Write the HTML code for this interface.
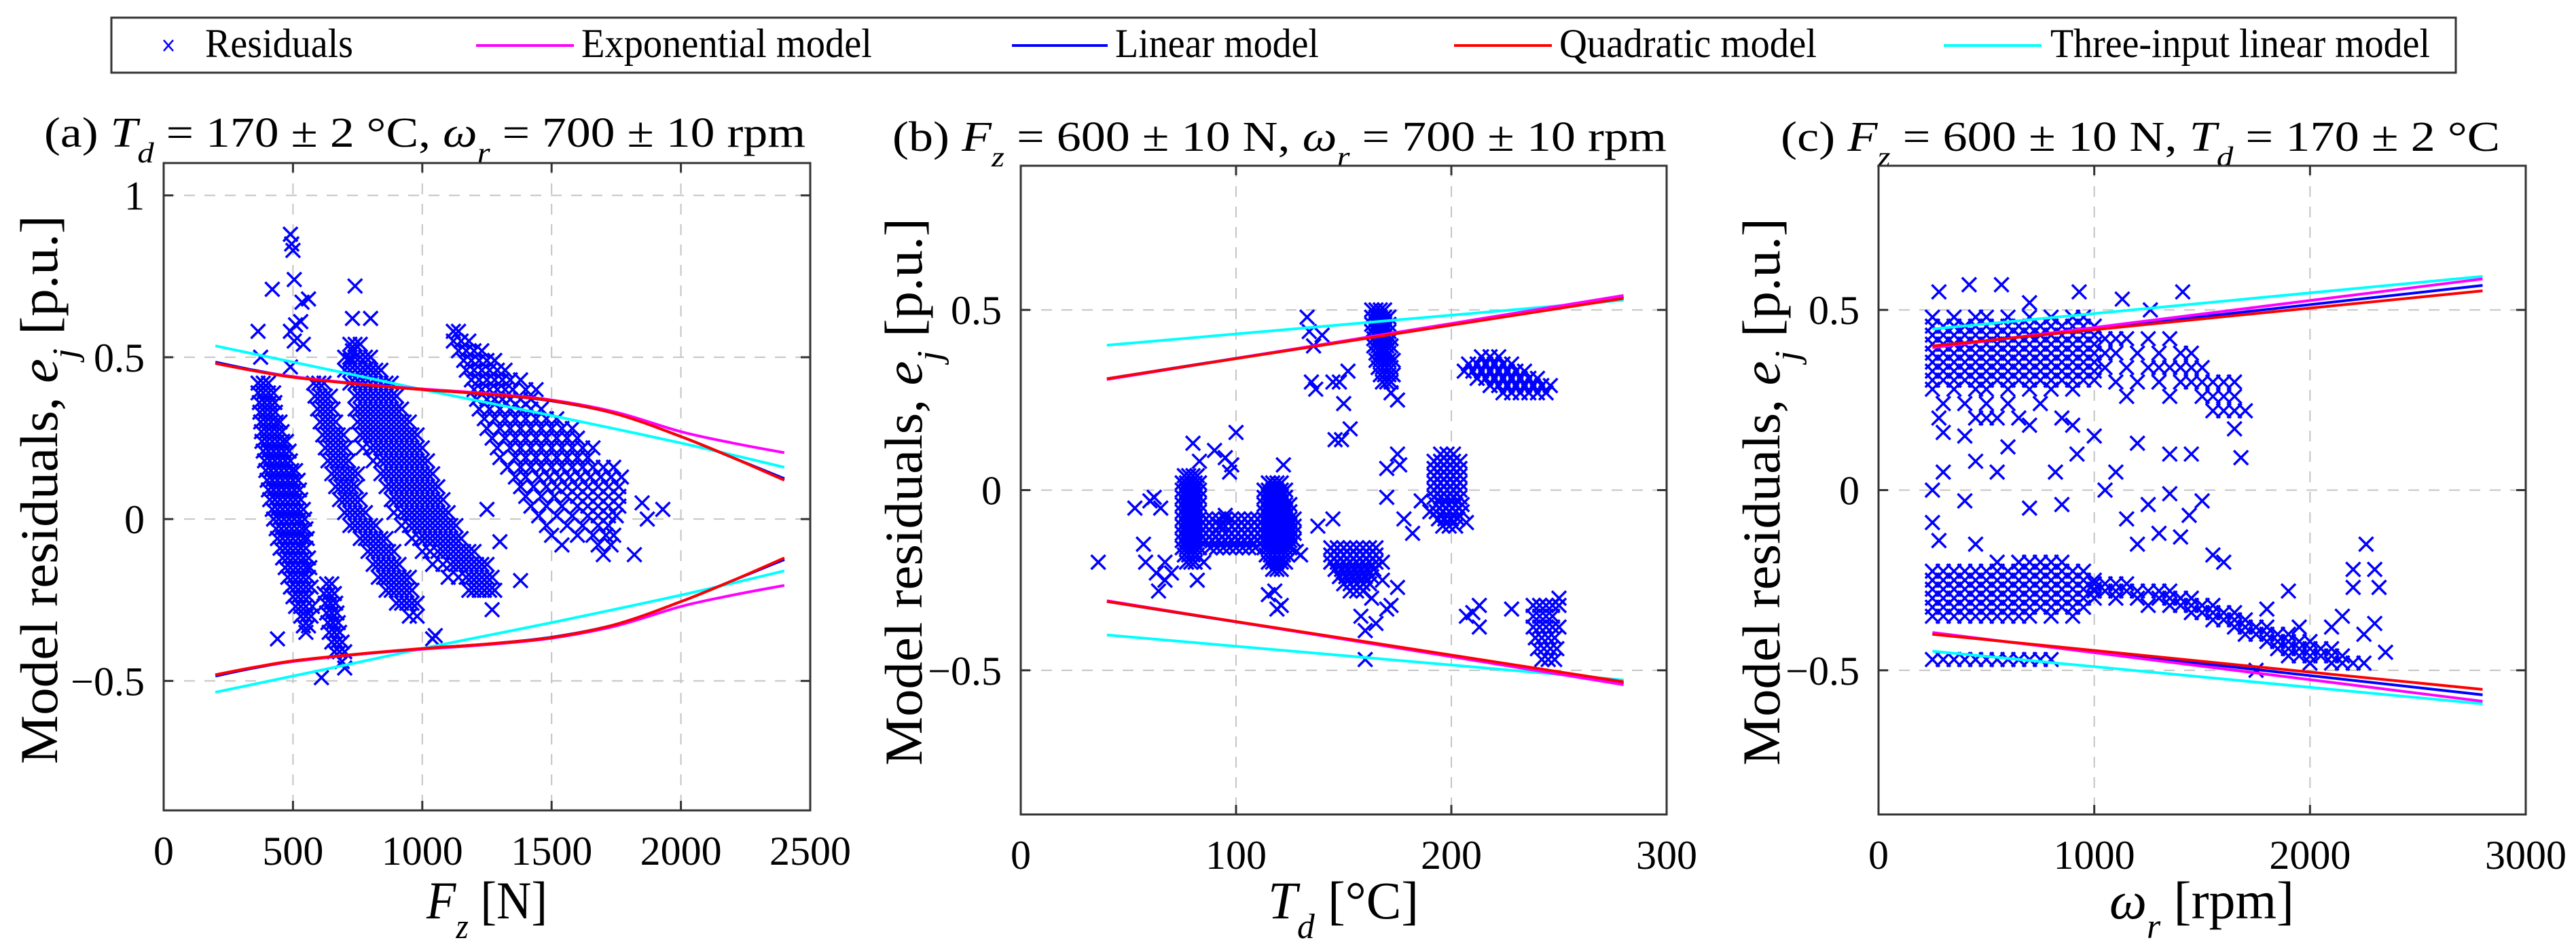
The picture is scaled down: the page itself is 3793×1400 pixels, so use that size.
<!DOCTYPE html>
<html><head><meta charset="utf-8"><style>
html,body{margin:0;padding:0;background:#fff;}
svg{display:block;font-family:"Liberation Serif","DejaVu Serif",serif;}
</style></head><body>
<svg id="fig" width="3793" height="1400" viewBox="0 0 3793 1400" xmlns="http://www.w3.org/2000/svg">
<rect x="0" y="0" width="3793" height="1400" fill="#fff"/>
<g>
 <rect x="164" y="26" width="3452" height="81" fill="#fff" stroke="#333" stroke-width="3"/>
 <g>
  <path d="M241,59 L255,75 M255,59 L241,75" stroke="#0000ff" stroke-width="2.5"/>
  <text x="302" y="84" font-size="60" textLength="218" lengthAdjust="spacingAndGlyphs">Residuals</text>
 </g>
 <g>
  <line x1="701" y1="67" x2="845" y2="67" stroke="#ff00ff" stroke-width="4"/>
  <text x="856" y="84" font-size="60" textLength="428" lengthAdjust="spacingAndGlyphs">Exponential model</text>
 </g>
 <g>
  <line x1="1490" y1="67" x2="1631" y2="67" stroke="#0000ff" stroke-width="4"/>
  <text x="1642" y="84" font-size="60" textLength="300" lengthAdjust="spacingAndGlyphs">Linear model</text>
 </g>
 <g>
  <line x1="2141" y1="67" x2="2285" y2="67" stroke="#ff0000" stroke-width="4"/>
  <text x="2296" y="84" font-size="60" textLength="379" lengthAdjust="spacingAndGlyphs">Quadratic model</text>
 </g>
 <g>
  <line x1="2862" y1="67" x2="3006" y2="67" stroke="#00ffff" stroke-width="4"/>
  <text x="3019" y="84" font-size="60" textLength="559" lengthAdjust="spacingAndGlyphs">Three-input linear model</text>
 </g>
</g>

<text x="65" y="216" font-size="62" textLength="1121" lengthAdjust="spacingAndGlyphs">(a)  <tspan font-style="italic">T</tspan><tspan font-style="italic" font-size="42" baseline-shift="sub">d</tspan> = 170 ± 2 °C,  <tspan font-style="italic">ω</tspan><tspan font-style="italic" font-size="42" baseline-shift="sub">r</tspan> = 700 ± 10 rpm</text>
<text x="1314" y="222" font-size="62" textLength="1140" lengthAdjust="spacingAndGlyphs">(b)  <tspan font-style="italic">F</tspan><tspan font-style="italic" font-size="42" baseline-shift="sub">z</tspan> = 600 ± 10 N,  <tspan font-style="italic">ω</tspan><tspan font-style="italic" font-size="42" baseline-shift="sub">r</tspan> = 700 ± 10 rpm</text>
<text x="2622" y="222" font-size="62" textLength="1059" lengthAdjust="spacingAndGlyphs">(c)  <tspan font-style="italic">F</tspan><tspan font-style="italic" font-size="42" baseline-shift="sub">z</tspan> = 600 ± 10 N,  <tspan font-style="italic">T</tspan><tspan font-style="italic" font-size="42" baseline-shift="sub">d</tspan> = 170 ± 2 °C</text>

<text transform="translate(84,721) rotate(-90)" text-anchor="middle" font-size="78" textLength="808" lengthAdjust="spacingAndGlyphs">Model residuals, <tspan font-style="italic">e</tspan><tspan font-style="italic" font-size="52" baseline-shift="sub">j</tspan> [p.u.]</text>
<text transform="translate(1357,724) rotate(-90)" text-anchor="middle" font-size="78" textLength="806" lengthAdjust="spacingAndGlyphs">Model residuals, <tspan font-style="italic">e</tspan><tspan font-style="italic" font-size="52" baseline-shift="sub">j</tspan> [p.u.]</text>
<text transform="translate(2620,724) rotate(-90)" text-anchor="middle" font-size="78" textLength="806" lengthAdjust="spacingAndGlyphs">Model residuals, <tspan font-style="italic">e</tspan><tspan font-style="italic" font-size="52" baseline-shift="sub">j</tspan> [p.u.]</text>

<text x="717" y="1352" text-anchor="middle" font-size="78" textLength="178" lengthAdjust="spacingAndGlyphs"><tspan font-style="italic">F</tspan><tspan font-style="italic" font-size="52" baseline-shift="sub">z</tspan> [N]</text>
<text x="1978" y="1352" text-anchor="middle" font-size="78" textLength="222" lengthAdjust="spacingAndGlyphs"><tspan font-style="italic">T</tspan><tspan font-style="italic" font-size="52" baseline-shift="sub">d</tspan> [°C]</text>
<text x="3242" y="1352" text-anchor="middle" font-size="78" textLength="272" lengthAdjust="spacingAndGlyphs"><tspan font-style="italic">ω</tspan><tspan font-style="italic" font-size="52" baseline-shift="sub">r</tspan> [rpm]</text>
</svg>

<script>
// ---------- Panel (a) data ----------
const xTicksA = [0, 500, 1000, 1500, 2000, 2500];
const yTicksA = [-0.5, 0, 0.5, 1];
const yTickLabelsA = ["\u22120.5", "0", "0.5", "1"];
const modelXA = [200, 350, 500, 750, 1000, 1250, 1500, 1750, 2000, 2200, 2400];
const expUpperA = [0.481, 0.458, 0.44, 0.418, 0.402, 0.388, 0.368, 0.33, 0.27, 0.235, 0.205];
const linUpperA = [0.485, 0.46, 0.44, 0.418, 0.40, 0.386, 0.365, 0.325, 0.255, 0.19, 0.125];
const quadUpperA = [0.481, 0.458, 0.438, 0.417, 0.40, 0.386, 0.366, 0.325, 0.255, 0.19, 0.12];
const threeUpperA = [0.535, 0.51, 0.485, 0.443, 0.40, 0.36, 0.32, 0.278, 0.235, 0.198, 0.16];
const rowsA = [
 [0.42,[365,385,405]],[0.39,[365,385,405,425]],[0.36,[370,390,410,430]],[0.33,[372,392,412,432]],
 [0.30,[375,395,415,435,450]],[0.27,[378,398,418,438,458]],[0.24,[380,400,420,440,460,475]],
 [0.21,[385,405,425,445,465,485]],[0.18,[390,410,430,450,470,490]],[0.15,[395,415,435,455,475,495,510]],
 [0.12,[400,420,440,460,480,500,520]],[0.09,[405,425,445,465,485,505,525]],[0.06,[410,430,450,470,490,510,530]],
 [0.03,[420,440,460,480,500,520,540]],[0.0,[425,445,465,485,505,525,545]],[-0.03,[435,455,475,495,515,535,550]],
 [-0.06,[440,460,480,500,520,540,555]],[-0.09,[450,470,490,510,530,550]],[-0.12,[460,480,500,520,540,560]],
 [-0.15,[470,490,510,530,550,565]],[-0.18,[480,500,520,540,560]],[-0.21,[490,510,530,550,570]],
 [-0.24,[500,520,540,560]],[-0.27,[510,530,550,575]],[-0.30,[530,550,570]],[-0.33,[540,560]],
 [-0.20,[630,650]],[-0.23,[620,640,660]],[-0.26,[625,645,665]],[-0.29,[630,650,670]],[-0.32,[635,655,675]],
 [-0.35,[640,660,680]],[-0.38,[650,670,690]],[-0.41,[660,680,700]],[-0.44,[690]],
 [0.42,[580,600,620]],[0.38,[585,605,625,645]],[0.34,[595,615,635,655]],[0.30,[605,625,645,665]],
 [0.26,[615,635,655,675,695]],[0.22,[625,645,665,685,705]],[0.18,[635,655,675,695,715]],
 [0.14,[650,670,690,710,730,750]],[0.10,[665,685,705,725,745]],[0.06,[680,700,720,740,760]],
 [0.02,[700,720,740,760,780]],[-0.02,[720,740,760,780,800,820]],[-0.06,[760,780,800,820,840,860]],
 [-0.10,[790,810,830,850,870,890]],[-0.14,[810,830,850,870,890,910]],[-0.18,[830,850,870,890,910,930,950]],
 [-0.22,[860,880,900,920,940,960]],[-0.26,[900,920,940,960,980]],[-0.30,[950,980]],
 [0.54,[720,740,760]],[0.50,[700,720,740,760,780,800]],[0.46,[700,720,740,760,780,800,820,840]],
 [0.42,[720,740,760,780,800,820,840,860,880]],[0.38,[740,760,780,800,820,840,860,880,900]],
 [0.34,[740,760,780,800,820,840,860,880,900,920]],[0.30,[750,770,790,810,830,850,870,890,910,930,950]],
 [0.26,[760,780,800,820,840,860,880,900,920,940,960,980]],[0.22,[770,800,820,840,860,880,900,920,940,960,980,1000]],
 [0.18,[810,840,860,880,900,920,940,960,980,1000,1020]],[0.14,[840,860,880,900,920,940,960,980,1000,1020,1040]],
 [0.10,[860,880,900,920,940,960,980,1000,1020,1040,1060]],[0.06,[880,900,920,940,960,980,1000,1020,1040,1060,1080]],
 [0.02,[890,920,940,960,980,1000,1020,1040,1060,1080,1100]],[-0.02,[920,950,970,990,1010,1030,1050,1070,1090,1110,1130]],
 [-0.06,[960,990,1010,1030,1050,1070,1090,1110,1130,1150]],[-0.10,[1000,1030,1060,1080,1100,1120,1140,1160,1180,1200]],
 [-0.14,[1040,1080,1110,1130,1150,1170,1190,1210,1230,1250]],[-0.18,[1100,1140,1170,1190,1210,1230,1250,1270]],
 [-0.22,[1180,1200,1220,1240,1260,1280]],
 [0.58,[1120,1140]],[0.55,[1120,1150,1180]],[0.52,[1140,1170,1200,1230]],[0.49,[1160,1190,1220,1250,1280]],
 [0.46,[1170,1200,1230,1260,1290,1320]],[0.43,[1190,1220,1250,1280,1310,1340,1380]],
 [0.40,[1200,1230,1260,1290,1320,1350,1400,1440]],[0.37,[1210,1250,1280,1310,1340,1380,1420]],
 [0.34,[1220,1260,1300,1340,1380,1420,1460]],[0.31,[1240,1280,1320,1360,1400,1440,1480,1520]],
 [0.28,[1250,1300,1340,1380,1420,1460,1500,1540,1580]],[0.25,[1270,1320,1360,1400,1440,1480,1520,1560,1600]],
 [0.22,[1290,1340,1380,1420,1460,1500,1540,1580,1620,1660]],[0.19,[1300,1360,1400,1440,1480,1520,1560,1600,1640]],
 [0.16,[1330,1380,1420,1460,1500,1540,1580,1620,1660,1700,1740]],[0.13,[1360,1400,1450,1490,1530,1570,1610,1650,1690,1730,1770]],
 [0.10,[1380,1430,1480,1520,1560,1600,1640,1680,1720,1760]],[0.07,[1400,1460,1510,1560,1600,1640,1680,1720,1760]],
 [0.04,[1420,1480,1540,1600,1640,1680,1720,1760]],[0.01,[1450,1520,1580,1640,1680,1720,1750]],
 [-0.02,[1480,1560,1620,1680,1720]],[-0.05,[1500,1600,1660,1710,1740]],[-0.08,[1540,1680,1730]],[-0.11,[1700,1820]]
];
const outliersA = [[490,0.88],[495,0.85],[500,0.83],[505,0.74],[420,0.71],[560,0.68],[535,0.67],[530,0.61],[510,0.6],
 [365,0.58],[490,0.58],[375,0.50],[490,0.47],[540,0.54],[505,0.55],[610,-0.49],[440,-0.37],[550,-0.35],[720,0.49],
 [730,0.52],[790,0.47],[800,0.62],[740,0.72],[730,0.62],[1870,0.0],[1930,0.03],[1850,0.05],[1380,-0.19],[1300,-0.07],
 [1250,0.03],[700,-0.46],[1270,-0.28],[1050,-0.36],[1040,-0.37]];

// ---------- Panel (b) data ----------
const xTicksB = [0, 100, 200, 300];
const yTicksB = [-0.5, 0, 0.5];
const yTickLabelsB = ["\u22120.5", "0", "0.5"];
const modelXB = [40, 280];
const expUpperB = [0.307, 0.540];
const linUpperB = [0.309, 0.536];
const quadUpperB = [0.309, 0.532];
const threeUpperB = [0.402, 0.527];
const rowsB = [
 [0.04,[76,78,80,82]],[0.02,[75,77,79,81,83]],[0.0,[75,77,79,81,83]],[-0.02,[75,77,79,81,83]],[-0.04,[75,77,79,81,83]],
 [-0.06,[75,77,79,81,83]],[-0.08,[75,77,79,81,83]],[-0.10,[75,77,79,81,83]],[-0.12,[75,77,79,81,83]],
 [-0.14,[75,77,79,81,83]],[-0.16,[75,77,79,81,83]],[-0.18,[76,78,80,82]],[-0.20,[77,79,81]],
 [-0.08,[86,89,92,95,98,101,104,107,110]],[-0.10,[86,89,92,95,98,101,104,107,110]],[-0.12,[86,89,92,95,98,101,104,107,110]],
 [-0.14,[86,89,92,95,98,101,104,107,110]],[-0.16,[88,91,94,97,100,103,106,109]],
 [0.02,[115,117,119,121]],[0.0,[113,115,117,119,121,123]],[-0.02,[113,115,117,119,121,123]],[-0.04,[113,115,117,119,121,123,125]],
 [-0.06,[113,115,117,119,121,123,125]],[-0.08,[113,115,117,119,121,123,125,127]],[-0.10,[113,115,117,119,121,123,125,127]],
 [-0.12,[113,115,117,119,121,123,125,127]],[-0.14,[113,115,117,119,121,123,125,127]],[-0.16,[113,115,117,119,121,123,125]],
 [-0.18,[114,116,118,120,122,124]],[-0.20,[115,117,119,121,123]],[-0.22,[117,119,121]],
 [-0.16,[144,147,150,153,156,159,162,165]],[-0.18,[144,147,150,153,156,159,162,165]],[-0.20,[144,147,150,153,156,159,162,165]],
 [-0.22,[146,149,152,155,158,161,164]],[-0.24,[148,151,154,157,160,163]],[-0.26,[150,153,156,159,162]],[-0.28,[153,156,159]],
 [0.50,[163,165,167,169]],[0.48,[163,165,167,169,171]],[0.46,[163,165,167,169,171]],[0.44,[163,165,167,169,171]],
 [0.42,[164,166,168,170,172]],[0.40,[164,166,168,170,172]],[0.38,[165,167,169,171]],[0.36,[165,167,169,171,173]],
 [0.34,[166,168,170,172]],[0.32,[167,169,171,173]],[0.30,[168,170,172]],
 [0.10,[195,198,201]],[0.08,[192,195,198,201,204]],[0.06,[192,195,198,201,204]],[0.04,[192,195,198,201,204]],
 [0.02,[192,195,198,201,204]],[0.0,[192,195,198,201,204]],[-0.02,[192,195,198,201,204]],[-0.04,[193,196,199,202,205]],
 [-0.06,[193,196,199,202,205]],[-0.08,[194,197,200,203]],[-0.10,[196,199,202]],
 [0.37,[214,218,222]],[0.35,[208,212,216,220,224,228]],[0.33,[206,210,214,218,222,226,230,234]],
 [0.31,[212,216,220,224,228,232,236,240]],[0.29,[218,222,226,230,234,238,242,246]],[0.27,[224,228,232,236,240,244]],
 [-0.32,[238,241,244,247,250]],[-0.35,[238,241,244,247]],[-0.38,[238,241,244,247,250]],[-0.41,[239,242,245,248]],
 [-0.44,[240,243,246,249]],[-0.47,[242,245,248]]
];
const outliersB = [[36,-0.2],[53,-0.05],[60,-0.03],[62,-0.02],[57,-0.15],[58,-0.2],[63,-0.23],[64,-0.28],[67,-0.2],[70,-0.23],
 [67,-0.25],[65,-0.05],[85,-0.2],[82,-0.25],[80,0.13],[83,0.08],[90,0.11],[95,0.09],[97,0.05],[98,0.07],[100,0.16],
 [95,-0.07],[93,-0.1],[128,-0.17],[130,-0.18],[122,0.07],[118,-0.28],[121,-0.32],[115,-0.29],
 [119,-0.33],[133,0.48],[134,0.44],[136,0.4],[135,0.3],[137,0.28],[140,0.43],[138,-0.1],[145,-0.08],[145,0.3],[148,0.3],
 [150,0.24],[152,0.33],[153,0.17],[146,0.14],[149,0.14],[158,-0.35],[160,-0.39],[165,-0.37],[170,-0.33],[172,-0.32],
 [175,-0.27],[163,-0.3],[168,-0.2],[168,-0.25],[160,-0.47],[172,0.27],[175,0.25],[170,0.06],[176,0.07],[175,0.1],
 [170,-0.02],[178,-0.08],[182,-0.12],[186,-0.03],[207,-0.09],[190,-0.06],[207,-0.35],[210,-0.34],[213,-0.32],
 [213,-0.38],[228,-0.33],[250,-0.3]];

// ---------- Panel (c) data ----------
const xTicksC = [0, 1000, 2000, 3000];
const yTicksC = [-0.5, 0, 0.5];
const yTickLabelsC = ["\u22120.5", "0", "0.5"];
const modelXC = [250, 2800];
const expUpperC = [0.395, 0.586];
const linUpperC = [0.398, 0.568];
const quadUpperC = [0.400, 0.553];
const threeUpperC = [0.447, 0.593];
const rowsC = [
 [0.48,[250,350,450,500,600,700,800,900,950]],
 [0.455,[250,300,350,400,450,500,550,600,650,700,750,800,850,900,950,1000]],
 [0.43,[250,300,350,400,450,500,550,600,650,700,750,800,850,900,950,1000]],
 [0.405,[250,300,350,400,450,500,550,600,650,700,750,800,850,900,950,1000]],
 [0.38,[250,300,350,400,450,500,550,600,650,700,750,800,850,900,950,1000]],
 [0.355,[250,300,350,400,450,500,550,600,650,700,750,800,850,900,950,1000]],
 [0.33,[250,300,350,400,450,500,550,600,650,700,750,800,850,900,950,1000]],
 [0.305,[250,300,350,400,450,500,550,600,650,700,750,800,850,900,950,1000]],
 [0.28,[250,350,450,500,600,700,800,900]],[0.24,[300,400,500,600,750]],[0.20,[280,450,550,650,850]],
 [0.42,[1050,1100,1150,1250,1350]],[0.38,[1050,1100,1200,1300,1400,1450]],
 [0.34,[1050,1150,1250,1300,1350,1400,1450,1500]],[0.30,[1100,1200,1300,1400,1450,1500,1550,1600,1650]],
 [0.26,[1150,1350,1500,1550,1600,1650]],[0.22,[1550,1600,1650,1700]],
 [-0.20,[550,650,700,750,800,850]],
 [-0.225,[250,300,350,400,450,500,550,600,650,700,750,800,850,900,950]],
 [-0.25,[250,300,350,400,450,500,550,600,650,700,750,800,850,900,950,1000]],
 [-0.275,[250,300,350,400,450,500,550,600,650,700,750,800,850,900,950,1000]],
 [-0.30,[250,300,350,400,450,500,550,600,650,700,750,800,850,900,950,1000]],
 [-0.325,[250,300,350,400,450,500,550,600,650,700,750,800,850,900,950]],
 [-0.35,[250,300,350,400,450,500,550,600,650,700,800,900]],
 [-0.26,[1000,1050,1100,1150]],[-0.28,[1000,1050,1100,1150,1200,1250,1300,1350]],
 [-0.30,[1100,1200,1300,1350,1400,1450]],[-0.32,[1250,1350,1400,1450,1500,1550]],
 [-0.34,[1450,1500,1550,1600,1650]],[-0.36,[1550,1600,1650,1700]],[-0.38,[1650,1700,1750,1800]],
 [-0.40,[1700,1750,1800,1850,1900]],[-0.42,[1800,1850,1900,1950,2000]],[-0.44,[1850,1900,1950,2000,2050,2100]],
 [-0.46,[1900,1950,2000,2050,2100,2150]],[-0.48,[2000,2100,2150,2200]],
 [-0.47,[250,300,350,400,450,500,550,600,650,700,750,800]]
];
const outliersC = [[280,0.55],[420,0.57],[570,0.57],[700,0.52],[1130,0.53],[1410,0.55],[930,0.55],[1260,0.5],[300,0.16],
 [400,0.15],[500,0.2],[600,0.12],[700,0.18],[900,0.18],[1000,0.15],[1200,0.13],[1350,0.1],[1450,0.1],[1680,0.09],
 [1650,0.17],[1100,0.05],[300,0.05],[450,0.08],[550,0.05],[820,0.05],[920,0.1],[1050,0.0],[1350,-0.01],[1500,-0.03],
 [250,0.0],[250,-0.09],[400,-0.03],[700,-0.05],[1150,-0.08],[1250,-0.04],[1440,-0.07],[1300,-0.12],[1200,-0.15],
 [1400,-0.13],[1550,-0.18],[1600,-0.2],[280,-0.14],[450,-0.15],[850,-0.04],[2260,-0.15],[2200,-0.22],[2300,-0.22],
 [2320,-0.27],[2200,-0.27],[2150,-0.35],[2300,-0.37],[2250,-0.4],[2100,-0.38],[2350,-0.45],[1750,-0.5],[2250,-0.48],
 [1800,-0.33],[1900,-0.28],[1950,-0.38]];

const NS = "http://www.w3.org/2000/svg";
const fig = document.getElementById("fig");
function mk(tag, attrs, parent) {
  const e = document.createElementNS(NS, tag);
  for (const k in attrs) e.setAttribute(k, attrs[k]);
  parent.appendChild(e);
  return e;
}
function smoothPath(P) {
  if (P.length < 3) return "M" + P.map(p => p[0] + "," + p[1]).join("L");
  let d = "M" + P[0][0] + "," + P[0][1];
  for (let i = 0; i < P.length - 1; i++) {
    const p0 = P[i - 1] || P[i], p1 = P[i], p2 = P[i + 1], p3 = P[i + 2] || P[i + 1];
    const c1x = p1[0] + (p2[0] - p0[0]) / 6, c1y = p1[1] + (p2[1] - p0[1]) / 6;
    const c2x = p2[0] - (p3[0] - p1[0]) / 6, c2y = p2[1] - (p3[1] - p1[1]) / 6;
    d += `C${c1x},${c1y} ${c2x},${c2y} ${p2[0]},${p2[1]}`;
  }
  return d;
}

function drawPanel(p) {
  const g = mk("g", {}, fig);
  
  
  const sx = v => p.L + (v - p.xmin) / (p.xmax - p.xmin) * (p.R - p.L);
  const sy = v => p.B - (v - p.ymin) / (p.ymax - p.ymin) * (p.B - p.T);
  p.xTicks.forEach(t => {
    if (t === p.xmin || t === p.xmax) return;
    const l = mk("line", {x1: sx(t), x2: sx(t), y1: p.T, y2: p.B, stroke: "#c4c4c4", "stroke-width": 2, "stroke-dasharray": "16,14"}, g);
    
    
  });
  p.yTicks.forEach(t => {
    const l = mk("line", {x1: p.L, x2: p.R, y1: sy(t), y2: sy(t), stroke: "#c4c4c4", "stroke-width": 2, "stroke-dasharray": "16,14"}, g);
    
    
  });
  const pts = [];
  p.rows.forEach(r => r[1].forEach(x => pts.push([x, r[0]])));
  p.outliers.forEach(o => pts.push(o));
  const sg = mk("g", {stroke: "#0000ff", "stroke-width": 3.5, fill: "none"}, g);
  
  
  pts.forEach(pt => {
    const cx = sx(pt[0]), cy = sy(pt[1]), h = 10.5;
    const m = mk("path", {d: `M${cx-h},${cy-h}L${cx+h},${cy+h}M${cx+h},${cy-h}L${cx-h},${cy+h}`}, sg);
    
    
  });
  const models = [
    ["three-input-linear-model", p.three, "#00ffff"],
    ["linear-model", p.lin, "#0000ff"],
    ["exponential-model", p.exp, "#ff00ff"],
    ["quadratic-model", p.quad, "#ff0000"]
  ];
  models.forEach(m => {
    [1, -1].forEach(sgn => {
      const P = p.modelX.map((x, i) => [sx(x), sy(sgn * m[1][i])]);
      const path = mk("path", {d: smoothPath(P), stroke: m[2], "stroke-width": 4, fill: "none", "stroke-linejoin": "round"}, g);
      
      
    });
  });
  const box = mk("rect", {x: p.L, y: p.T, width: p.R - p.L, height: p.B - p.T, fill: "none", stroke: "#333", "stroke-width": 3}, g);
  
  
  p.xTicks.forEach(t => {
    mk("line", {x1: sx(t), x2: sx(t), y1: p.B, y2: p.B - 14, stroke: "#333", "stroke-width": 3}, g);
    mk("line", {x1: sx(t), x2: sx(t), y1: p.T, y2: p.T + 14, stroke: "#333", "stroke-width": 3}, g);
    const tx = mk("text", {x: sx(t), y: p.B + 80, "text-anchor": "middle", "font-size": 60}, g);
    tx.textContent = String(t);
    
    
  });
  p.yTicks.forEach((t, i) => {
    mk("line", {x1: p.L, x2: p.L + 14, y1: sy(t), y2: sy(t), stroke: "#333", "stroke-width": 3}, g);
    mk("line", {x1: p.R, x2: p.R - 14, y1: sy(t), y2: sy(t), stroke: "#333", "stroke-width": 3}, g);
    const ty = mk("text", {x: p.L - 28, y: sy(t) + 21, "text-anchor": "end", "font-size": 60}, g);
    ty.textContent = p.yTickLabels[i];
    
    
  });
}

drawPanel({name: "panel-a", L: 241, R: 1193, T: 240, B: 1193, xmin: 0, xmax: 2500, ymin: -0.9, ymax: 1.1,
  xTicks: xTicksA, yTicks: yTicksA, yTickLabels: yTickLabelsA, modelX: modelXA,
  exp: expUpperA, lin: linUpperA, quad: quadUpperA, three: threeUpperA, rows: rowsA, outliers: outliersA});
drawPanel({name: "panel-b", L: 1503, R: 2454, T: 244, B: 1199, xmin: 0, xmax: 300, ymin: -0.9, ymax: 0.9,
  xTicks: xTicksB, yTicks: yTicksB, yTickLabels: yTickLabelsB, modelX: modelXB,
  exp: expUpperB, lin: linUpperB, quad: quadUpperB, three: threeUpperB, rows: rowsB, outliers: outliersB});
drawPanel({name: "panel-c", L: 2766, R: 3719, T: 244, B: 1199, xmin: 0, xmax: 3000, ymin: -0.9, ymax: 0.9,
  xTicks: xTicksC, yTicks: yTicksC, yTickLabels: yTickLabelsC, modelX: modelXC,
  exp: expUpperC, lin: linUpperC, quad: quadUpperC, three: threeUpperC, rows: rowsC, outliers: outliersC});
</script>
</body></html>
